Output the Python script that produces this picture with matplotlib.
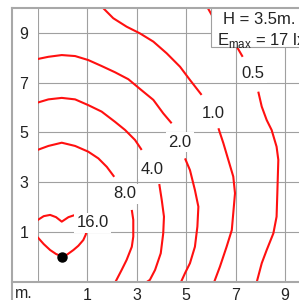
import numpy as np
import matplotlib
matplotlib.use("Agg")
from matplotlib import pyplot as plt
from matplotlib.lines import Line2D
from matplotlib.patches import Rectangle

plt.rcParams['font.family'] = ['Liberation Sans', 'DejaVu Sans']
plt.rcParams['mathtext.fontset'] = 'custom'
plt.rcParams['mathtext.rm'] = 'Liberation Sans'

# isolux lines, each split in two pieces around its label
c05_a_x = [5.88, 6.04, 6.5, 7.05, 7.29]
c05_a_y = [10.0, 9.72, 9.1, 8.45, 8.04]
c05_b_x = [7.92, 8.06, 8.26, 8.46, 8.66, 8.73, 8.69, 8.66, 8.53, 8.26, 8.06, 7.86]
c05_b_y = [6.64, 6.04, 5.5, 5.1, 4.43, 3.9, 2.56, 1.62, 0.95, 0.28, -0.25, -1.0]

c10_a_x = [1.65, 2.06, 2.6, 3.14, 3.68, 4.22, 4.76, 5.16, 5.63]
c10_a_y = [10.0, 9.59, 9.25, 8.98, 8.65, 8.18, 7.64, 7.11, 6.51]
c10_b_x = [6.31, 6.51, 6.71, 6.91, 6.98, 6.91, 6.85, 6.64, 6.37, 6.14]
c10_b_y = [5.17, 4.57, 3.9, 3.23, 2.56, 1.76, 1.08, 0.41, -0.39, -1.0]

c20_a_x = [-1.0, -0.56, -0.02, 0.52, 1.05, 1.59, 2.13, 2.67, 3.14, 3.68, 4.08, 4.42]
c20_a_y = [7.95, 8.04, 8.11, 8.07, 7.91, 7.67, 7.42, 7.14, 6.75, 6.31, 5.77, 5.37]
c20_b_x = [4.96, 5.16, 5.36, 5.5, 5.46, 5.36, 5.16, 4.96, 4.8]
c20_b_y = [3.96, 3.49, 2.69, 2.02, 1.22, 0.41, -0.25, -0.65, -1.0]

c40_a_x = [-1.0, -0.56, -0.02, 0.52, 1.05, 1.59, 2.13, 2.54, 2.94, 3.21]
c40_a_y = [6.2, 6.33, 6.39, 6.33, 6.1, 5.84, 5.43, 5.1, 4.7, 4.3]
c40_b_x = [3.92, 4.02, 4.11, 4.08, 3.98, 3.75, 3.54, 3.42]
c40_b_y = [2.93, 2.29, 1.62, 0.95, 0.15, -0.52, -0.92, -1.0]

c80_a_x = [-1.0, -0.56, -0.02, 0.52, 1.05, 1.46, 1.8, 2.1]
c80_a_y = [4.3, 4.46, 4.59, 4.46, 4.23, 3.96, 3.62, 3.22]
c80_b_x = [2.81, 2.87, 2.87, 2.81, 2.6, 2.4, 2.15]
c80_b_y = [1.89, 1.49, 0.82, 0.41, -0.12, -0.52, -1.0]

c16_a_x = [-1.0, -0.75, -0.49, -0.25, -0.02, 0.25, 0.52]
c16_a_y = [1.48, 1.64, 1.69, 1.6, 1.42, 1.6, 1.69]
c16_b_x = [0.99, 0.95, 0.85, 0.65, 0.45, 0.2, 0.0, -0.25, -0.49, -0.75, -1.0]
c16_b_y = [1.11, 0.9, 0.68, 0.45, 0.28, 0.1, 0.02, 0.12, 0.28, 0.52, 0.8]

pieces = [
    (c05_a_x, c05_a_y), (c05_b_x, c05_b_y),
    (c10_a_x, c10_a_y), (c10_b_x, c10_b_y),
    (c20_a_x, c20_a_y), (c20_b_x, c20_b_y),
    (c40_a_x, c40_a_y), (c40_b_x, c40_b_y),
    (c80_a_x, c80_a_y), (c80_b_x, c80_b_y),
    (c16_a_x, c16_a_y), (c16_b_x, c16_b_y),
]

label_text = ['0.5', '1.0', '2.0', '4.0', '8.0', '16.0']
label_x = [7.71, 6.10, 4.74, 3.63, 2.52, 1.22]
label_y = [7.43, 5.82, 4.67, 3.59, 2.61, 1.44]

source_x = [0.0]
source_y = [0.0]

tick_pos = [1, 3, 5, 7, 9]
tick_lab = ['1', '3', '5', '7', '9']

W, H = 299, 300
fig = plt.figure(figsize=(W / 100, H / 100), dpi=100)
ax = fig.add_axes([37.5 / W, 1 - 281.9 / H, (W - 37.5) / W, (281.9 - 8) / H])
ax.set_xlim(-1, -1 + (W - 37.5) / 24.75)
ax.set_ylim(-1, 10)

ax.set_xticks(tick_pos)
ax.set_xticklabels(tick_lab)
ax.set_yticks(tick_pos)
ax.set_yticklabels(tick_lab)
ax.set_xticks(np.arange(-1, 10, 2), minor=True)
ax.set_yticks(np.arange(-1, 10, 2), minor=True)
ax.tick_params(which='both', length=0, labelsize=11.5, colors='#222222')
ax.tick_params(axis='x', pad=4.2)
ax.tick_params(axis='y', pad=6.6)
ax.grid(which='both', color='#a0a0a0', lw=0.8, zorder=0)
ax.set_axisbelow(True)
for s in ax.spines.values():
    s.set_visible(False)

for px, py in pieces:
    ax.plot(px, py, color='#ff1010', lw=1.5, zorder=2, solid_capstyle='butt',
            solid_joinstyle='round')

ax.plot(source_x, source_y, 'o', color='black', ms=6.5, zorder=3)

for t, x, y in zip(label_text, label_x, label_y):
    ax.text(x, y, t, ha='center', va='center_baseline', fontsize=12,
            color='#222222', zorder=4,
            bbox=dict(boxstyle='square,pad=0.15', fc='white', ec='none'))

# info box in the top right corner
ax.add_patch(Rectangle((6, 8.42), 5, 3, fc='white', ec='#a0a0a0', lw=0.8,
                       zorder=5, clip_on=True))
ax.text(6.48, 9.36, 'H = 3.5m.', fontsize=12, color='#222222', zorder=6,
        va='baseline', ha='left')
ax.text(6.24, 8.51, r'E$_{\rm max}$ = 17 lx', fontsize=12, color='#222222',
        zorder=6, va='baseline', ha='left')

fig.text(15 / W, 1 - 294 / H, 'm.', fontsize=11.5, color='#222222',
         ha='left', va='center')

# outer frame lines
frame = '#a8a8a8'
fig.add_artist(Line2D([12 / W, 12 / W], [0, 1 - 8 / H], color=frame, lw=1.5))
fig.add_artist(Line2D([12 / W, 1], [1 - 8 / H, 1 - 8 / H], color=frame, lw=1.5))
fig.add_artist(Line2D([12 / W, 1], [1 - 281.5 / H, 1 - 281.5 / H], color=frame, lw=1.5))

fig.savefig('out.png', dpi=100)
